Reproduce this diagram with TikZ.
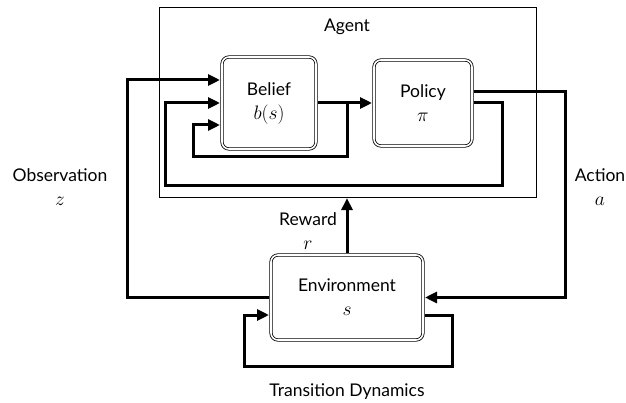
\documentclass[tikz,border=0pt]{standalone}
\usepackage{fix-cm}
\usepackage{fontspec}
\setmainfont{Lato}
\usetikzlibrary{arrows.meta,calc}
\newcommand\mymath[1]{{\fontsize{19.5}{24}\selectfont$#1$}}
\tikzset{
  dbox/.style={draw, double, double distance=1.6pt, line width=0.8pt, rounded corners=7pt, outer sep=2pt, align=center, inner sep=0pt},
  flow/.style={line width=3pt, -{Triangle[length=12pt,width=11pt]}},
  lbl/.style={align=center, inner sep=0pt}
}
\begin{document}
\begin{tikzpicture}[x=1pt,y=-1pt,font=\fontsize{17.5}{24}\selectfont]
\useasboundingbox (0,0) rectangle (626,403);
% boxes
\node[draw, line width=1.2pt, minimum width=377pt, minimum height=190pt, inner sep=0pt, outer sep=0.6pt] (agent) at (348,102.5) {};
\node[lbl] (agentlbl) at (347,27) {Agent};
\node[dbox, minimum width=94pt, minimum height=92pt] (belief) at (269,103) {Belief\\\mymath{b(s)}};
\node[dbox, minimum width=98pt, minimum height=86pt] (policy) at (423,103) {Policy\\\mymath{\pi}};
\node[dbox, minimum width=152pt, minimum height=85pt] (env) at (347,297.5) {Environment\\\mymath{s}};
% labels
\node[lbl] (obs) at (60,187) {Observation\\\mymath{z}};
\node[lbl] (act) at (600,187) {Action\\\mymath{a}};
\node[lbl] (rew) at (308,231) {Reward\\\mymath{r}};
\node[lbl] (trans) at (347,392) {Transition Dynamics};
% coordinates
\coordinate (oc) at (127,80);
\coordinate (bp) at (347,103);
\coordinate (ic) at (193,157);
\coordinate (ie) at (220,125);
\coordinate (pc) at (502,186);
\coordinate (pl) at (165,186);
\coordinate (ac) at (565,92);
\coordinate (tc) at (452,366);
\coordinate (tl) at (244,366);
% connectors
\draw[flow] (env.west) -| (oc) -- (oc -| belief.west);
\draw[flow] (belief.east) -- (policy.west);
\draw[flow] (bp) |- (ic) |- (ie -| belief.west);
\draw[flow] (policy.east) -| (pc) -| (pl) |- (belief.west);
\draw[flow] (policy.east |- ac) -| (env.east -| ac) -- (env.east);
\draw[flow] (env.north) -- (env.north |- agent.south);
\draw[flow] (env.east |- 0,315) -| (tc) -| (tl) |- (env.west |- 0,315);
\end{tikzpicture}
\end{document}
